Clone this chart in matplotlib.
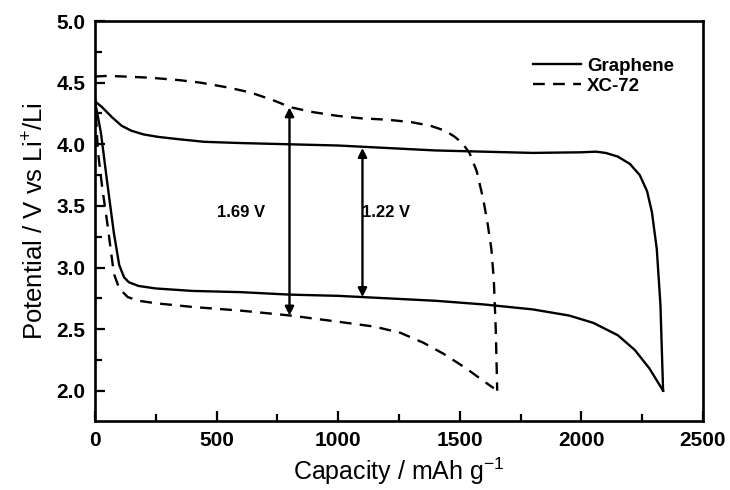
import matplotlib.pyplot as plt
from matplotlib.ticker import MultipleLocator

plt.rcParams['font.family'] = ['Liberation Sans', 'DejaVu Sans']

# Graphene - charge / discharge
gr_chg_cap = [0, 30, 70, 110, 150, 200, 260, 350, 450, 600, 800, 1000, 1200, 1400,
              1600, 1800, 2000, 2060, 2100, 2150, 2200, 2240, 2270, 2290, 2310, 2325, 2336]
gr_chg_v = [4.35, 4.30, 4.22, 4.15, 4.11, 4.08, 4.06, 4.04, 4.02, 4.01, 4.00, 3.99, 3.97, 3.95,
            3.94, 3.93, 3.935, 3.94, 3.93, 3.90, 3.84, 3.75, 3.62, 3.45, 3.15, 2.70, 2.00]
gr_dis_cap = [0, 10, 25, 50, 78, 100, 120, 140, 180, 250, 400, 600, 800, 1000, 1200,
              1400, 1600, 1800, 1950, 2050, 2150, 2220, 2280, 2336]
gr_dis_v = [4.35, 4.25, 4.09, 3.70, 3.28, 3.02, 2.92, 2.88, 2.85, 2.83, 2.81, 2.80, 2.78, 2.77, 2.75,
            2.73, 2.70, 2.66, 2.61, 2.55, 2.45, 2.33, 2.18, 2.00]

# XC-72 - charge / discharge
xc_chg_cap = [0, 50, 120, 230, 350, 435, 550, 640, 730, 805, 900, 1000, 1100, 1200, 1300,
              1380, 1440, 1480, 1510, 1540, 1570, 1597, 1615, 1630, 1640, 1648, 1654]
xc_chg_v = [4.55, 4.555, 4.55, 4.54, 4.52, 4.50, 4.46, 4.42, 4.36, 4.30, 4.26, 4.23, 4.21, 4.20, 4.18,
            4.15, 4.11, 4.06, 4.01, 3.93, 3.78, 3.55, 3.35, 3.15, 2.90, 2.50, 2.00]
xc_dis_cap = [0, 12, 30, 53, 78, 100, 135, 180, 250, 400, 600, 805, 1000, 1150, 1256,
              1350, 1433, 1520, 1597, 1640]
xc_dis_v = [4.40, 3.95, 3.65, 3.33, 2.95, 2.83, 2.76, 2.73, 2.71, 2.68, 2.65, 2.61, 2.56, 2.52, 2.47,
            2.39, 2.30, 2.19, 2.08, 2.02]

# voltage gap markers: (capacity, low, high, label, label x)
gaps = [(800, 2.61, 4.30, '1.69 V', 600), (1100, 2.76, 3.97, '1.22 V', 1195)]

fig = plt.figure(figsize=(7.3, 4.9), dpi=100)
ax = fig.add_axes([0.130, 0.141, 0.833, 0.816])

ax.plot(gr_chg_cap, gr_chg_v, 'k-', lw=1.7, label='Graphene')
ax.plot(gr_dis_cap, gr_dis_v, 'k-', lw=1.7)
ax.plot(xc_chg_cap, xc_chg_v, 'k--', lw=1.7, dashes=(5, 3.5), label='XC-72')
ax.plot(xc_dis_cap, xc_dis_v, 'k--', lw=1.7, dashes=(5, 3.5))

for x, lo, hi, txt, tx in gaps:
    ax.annotate('', xy=(x, hi), xytext=(x, lo),
                arrowprops=dict(arrowstyle='<|-|>', color='k', lw=1.7,
                                mutation_scale=13, shrinkA=0, shrinkB=0))
    ax.text(tx, 3.45, txt, ha='center', va='center', fontsize=12, fontweight='bold')

ax.set_xlim(0, 2500)
ax.set_ylim(1.755, 5.0)
ax.xaxis.set_major_locator(MultipleLocator(500))
ax.xaxis.set_minor_locator(MultipleLocator(250))
ax.yaxis.set_major_locator(MultipleLocator(0.5))
ax.yaxis.set_minor_locator(MultipleLocator(0.25))
ax.tick_params(which='both', direction='in', width=1.6, labelsize=15)
ax.tick_params(which='major', length=7, pad=7)
ax.tick_params(which='minor', length=5)
for lbl in ax.get_xticklabels() + ax.get_yticklabels():
    lbl.set_fontweight('bold')
for s in ax.spines.values():
    s.set_linewidth(1.9)

ax.set_xlabel('Capacity / mAh g$^{\\mathregular{-1}}$', fontsize=18, labelpad=4)
ax.set_ylabel('Potential / V vs Li$^{\\mathregular{+}}$/Li', fontsize=18.5, labelpad=6)

ax.legend(loc='upper right', frameon=False, fontsize=13.5, handlelength=2.6,
          handletextpad=0.3, labelspacing=0.15, bbox_to_anchor=(0.98, 0.95))
for t in ax.get_legend().get_texts():
    t.set_fontweight('bold')

fig.savefig('out.png', dpi=100)
